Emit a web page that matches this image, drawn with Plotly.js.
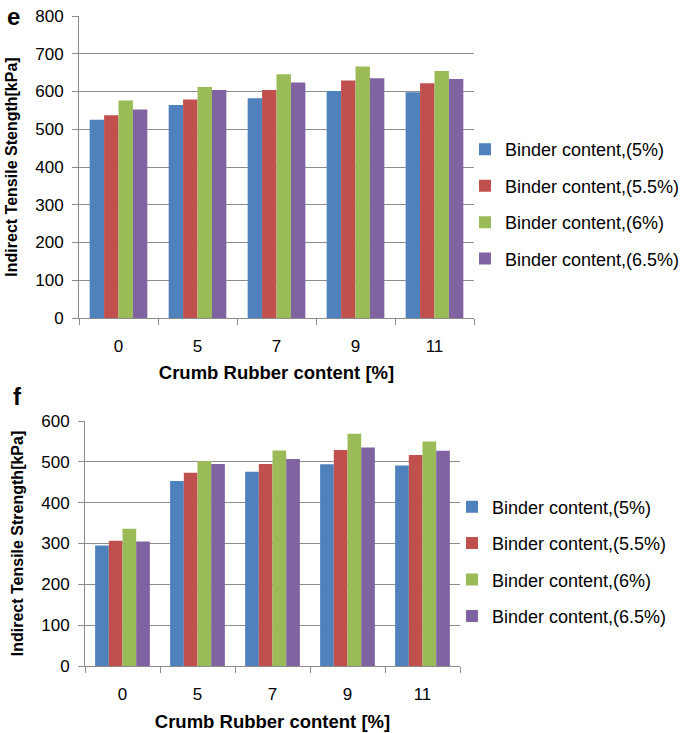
<!DOCTYPE html>
<html>
<head>
<meta charset="utf-8">
<script src="https://cdn.plot.ly/plotly-3.0.1.min.js"></script>
<style>
html,body{margin:0;padding:0;background:#fff;}
#e{position:absolute;left:0;top:0;width:685px;height:385px;}
#f{position:absolute;left:0;top:375px;width:685px;height:358px;}
</style>
</head>
<body>
<div id="e"></div>
<div id="f"></div>
<script>
const categories = ["0", "5", "7", "9", "11"];
const seriesNames = ["Binder content,(5%)", "Binder content,(5.5%)", "Binder content,(6%)", "Binder content,(6.5%)"];
const colors = ["#4F81BD", "#C0504D", "#9BBB59", "#8064A2"];

// Panel e
const e_b5  = [525, 564, 582, 601, 598];
const e_b55 = [537, 579, 604, 629, 622];
const e_b6  = [576, 612, 646, 666, 654];
const e_b65 = [552, 604, 624, 635, 633];

// Panel f
const f_b5  = [295, 453, 476, 494, 491];
const f_b55 = [307, 473, 495, 529, 517];
const f_b6  = [336, 502, 528, 569, 550];
const f_b65 = [305, 495, 507, 535, 527];

const FONT = "Liberation Sans, Arial, sans-serif";
const grid = "#8c8c8c";

function traces(vals){
  return vals.map((v,i)=>({
    type:"bar", x:categories, y:v, name:seriesNames[i],
    marker:{color:colors[i]}, legendgroup:"g"+i
  }));
}

function layout(cfg){
  return {
    width:685, height:cfg.h,
    paper_bgcolor:"rgba(0,0,0,0)", plot_bgcolor:"#fff",
    font:{family:FONT, size:17, color:"#000"},
    margin:{l:cfg.l, r:cfg.r, t:cfg.t, b:cfg.b, autoexpand:false},
    barmode:"group", bargap:0.27, bargroupgap:0,
    showlegend:true,
    legend:{x:cfg.lx, y:cfg.ly, xanchor:"left", yanchor:"middle", xref:"paper", yref:"paper",
      font:{family:FONT, size:18, color:"#000"}, tracegroupgap:cfg.gap, itemwidth:30, bgcolor:"rgba(0,0,0,0)"},
    xaxis:{type:"category", tickson:"boundaries", ticks:"outside", ticklen:6, tickcolor:grid,
      showline:true, linecolor:grid, linewidth:1, showgrid:false, tickfont:{size:17, family:FONT},
      ticklabelstandoff:13,
      title:{text:"Crumb Rubber content [%]", font:{size:18.5, family:FONT, weight:"bold"}, standoff:cfg.xs}},
    yaxis:{range:cfg.yr, dtick:100, ticks:"outside", ticklen:6, tickcolor:grid,
      showline:true, linecolor:grid, linewidth:1, showgrid:true, gridcolor:grid, gridwidth:1,
      zeroline:false, tickfont:{size:17, family:FONT}, ticklabelstandoff:5,
      title:{text:cfg.yt, font:{size:16, family:FONT, weight:"bold"}, standoff:cfg.ys}},
    annotations:[{text:cfg.lab, xref:"paper", yref:"paper", x:cfg.labx, y:cfg.laby, showarrow:false,
      xanchor:"center", yanchor:"middle", font:{size:24, family:FONT, weight:"bold"}}]
  };
}

Plotly.newPlot("e", traces([e_b5,e_b55,e_b6,e_b65]), layout({
  h:385, l:79, r:211, t:16, b:67, yr:[0,800], yt:"Indirect Tensile Stength[kPa]",
  lx:0.9772, ly:0.377, gap:10, xs:10, ys:13, lab:"e", labx:-0.165, laby:1.0
}), {displayModeBar:false, staticPlot:true});

Plotly.newPlot("f", traces([f_b5,f_b55,f_b6,f_b65]), layout({
  h:358, l:85, r:225, t:46, b:67, yr:[0,600], yt:"Indirect Tensile Strength[kPa]",
  lx:0.9787, ly:0.4265, gap:10, xs:11, ys:13, lab:"f", labx:-0.18, laby:1.098
}), {displayModeBar:false, staticPlot:true});
</script>
</body>
</html>
